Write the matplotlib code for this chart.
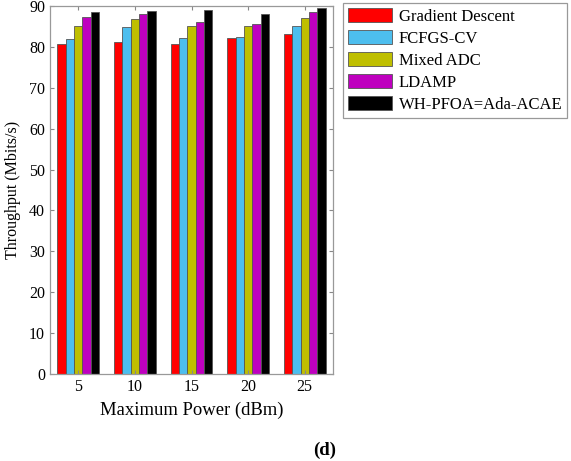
import numpy as np
import matplotlib.pyplot as plt

# data
power = [5, 10, 15, 20, 25]
gradient_descent = [80.8, 81.2, 80.8, 82.1, 83.2]
fcfgs_cv = [81.9, 84.8, 82.1, 82.4, 85.0]
mixed_adc = [85.1, 86.9, 85.1, 85.1, 87.0]
ldamp = [87.4, 88.0, 86.2, 85.7, 88.5]
wh_pfoa = [88.5, 88.8, 89.0, 88.0, 89.4]

series = [gradient_descent, fcfgs_cv, mixed_adc, ldamp, wh_pfoa]
names = ["Gradient Descent", "FCFGS-CV", "Mixed ADC", "LDAMP", "WH-PFOA=Ada-ACAE"]
colors = ["#FF0000", "#4DBEEE", "#BFBF00", "#BF00BF", "#000000"]

plt.rcParams['font.family'] = ['Liberation Serif', 'DejaVu Serif']
plt.rcParams['font.size'] = 11

fig = plt.figure(figsize=(5.71, 4.61), dpi=100)
ax = fig.add_axes([50 / 571, 1 - 374 / 461, 283 / 571, 368 / 461])

x = np.arange(len(power))
w = 0.148
for i, (vals, name, c) in enumerate(zip(series, names, colors)):
    ax.bar(x + (i - 2) * w, vals, w, color=c, edgecolor='#555555', linewidth=0.6, label=name)

ax.set_xlim(-0.5, 4.5)
ax.set_ylim(0, 90)
ax.set_xticks(x)
ax.set_xticklabels([str(p) for p in power])
ax.set_yticks(range(0, 91, 10))
ax.tick_params(direction='in', top=True, right=True, length=3, color='#888888', labelsize=11.5)
for s in ax.spines.values():
    s.set_color('#999999')
    s.set_linewidth(0.9)

ax.set_xlabel("Maximum Power (dBm)", fontsize=13.4, labelpad=5)
ax.set_ylabel("Throughput (Mbits/s)", fontsize=11.5, labelpad=6)

leg = fig.legend(loc='upper left', bbox_to_anchor=(343 / 571, 1 - 3 / 461), fontsize=12,
                 handlelength=2.65, handleheight=0.95, labelspacing=0.3, handletextpad=0.4,
                 borderpad=0.3, fancybox=False, framealpha=1, borderaxespad=0)
leg.get_frame().set_edgecolor('#999999')
leg.get_frame().set_linewidth(0.9)

fig.text(325 / 571, 1 - 450 / 461, "(d)", fontsize=13.5, fontweight='bold', ha='center', va='center')

fig.savefig("out.png", dpi=100)
